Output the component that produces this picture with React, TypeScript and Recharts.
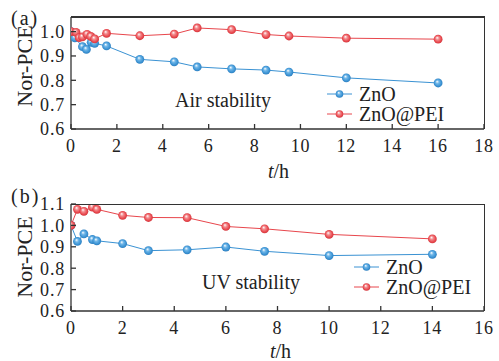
import React from 'react'
import { LineChart, Line, XAxis, YAxis, Legend } from 'recharts'

// panel (a): air stability
const airTimesZnO = [0, 0.17, 0.5, 0.67, 0.88, 1.03, 1.55, 3, 4.5, 5.5, 7, 8.5, 9.5, 12, 16]
const airZnO = [1.0, 0.974, 0.938, 0.927, 0.956, 0.952, 0.941, 0.886, 0.876, 0.855, 0.847, 0.842, 0.834, 0.81, 0.789]
const airTimesPEI = [0, 0.22, 0.36, 0.5, 0.7, 0.86, 1.03, 1.55, 3, 4.5, 5.5, 7, 8.5, 9.5, 12, 16]
const airPEI = [1.0, 0.997, 0.975, 0.978, 0.989, 0.98, 0.97, 0.993, 0.983, 0.99, 1.015, 1.008, 0.988, 0.982, 0.973, 0.969]

// panel (b): UV stability
const uvTimes = [0, 0.25, 0.5, 0.83, 1, 2, 3, 4.5, 6, 7.5, 10, 14]
const uvZnO = [1.0, 0.925, 0.96, 0.934, 0.928, 0.915, 0.882, 0.886, 0.899, 0.879, 0.859, 0.865]
const uvPEI = [1.0, 1.075, 1.066, 1.085, 1.075, 1.047, 1.037, 1.036, 0.995, 0.984, 0.958, 0.937]

const airXTicks = [0, 2, 4, 6, 8, 10, 12, 14, 16, 18]
const uvXTicks = [0, 2, 4, 6, 8, 10, 12, 14, 16]
const airYTicks = [0.6, 0.7, 0.8, 0.9, 1.0]
const uvYTicks = [0.6, 0.7, 0.8, 0.9, 1.0, 1.1]

const BLUE = '#3a92d3'
const RED = '#e8464c'
const AXIS = '#333'
const FONT = '"Liberation Serif", "DejaVu Serif", serif'

const toRows = (ts: number[], vs: number[]) => ts.map((t, i) => ({ t, v: vs[i] }))

const Ball = (grad: string) => (props: any) => {
  const { cx, cy, key } = props
  if (cx == null || cy == null) return <g key={key} />
  return <circle key={key} cx={cx} cy={cy} r={4.4} fill={`url(#${grad})`} />
}

// tick label plus a short tick pointing into the plot
const XTick = (props: any) => {
  const { x, y, payload } = props
  const ay = y - 10
  return (
    <g>
      <line x1={x} y1={ay} x2={x} y2={ay - 5} stroke={AXIS} strokeWidth={1.3} />
      <text x={x} y={y} dy="0.71em" textAnchor="middle" fontFamily={FONT} fontSize={18} fill="#222" letterSpacing={0.8}>
        {payload.value}
      </text>
    </g>
  )
}

const YTick = (props: any) => {
  const { x, y, payload } = props
  const ax = x + 6
  return (
    <g>
      <line x1={ax} y1={y} x2={ax + 5} y2={y} stroke={AXIS} strokeWidth={1.3} />
      <text x={x} y={y} dy="0.355em" textAnchor="end" fontFamily={FONT} fontSize={18} fill="#222" letterSpacing={0.8}>
        {Number(payload.value).toFixed(1)}
      </text>
    </g>
  )
}

const LegendBox = ({ payload }: any) => (
  <div style={{ fontFamily: FONT, fontSize: 20, color: '#222', lineHeight: '20px' }}>
    {(payload || []).map((p: any) => (
      <div key={p.value} style={{ display: 'flex', alignItems: 'center', height: 20 }}>
        <svg width={26} height={12} style={{ marginRight: 6 }}>
          <line x1={0} y1={6} x2={25} y2={6} stroke={p.color} strokeWidth={1} />
          <circle cx={12.5} cy={6} r={3.8} fill={`url(#${p.color === BLUE ? 'gBlue' : 'gRed'})`} />
        </svg>
        <span>{p.value}</span>
      </div>
    ))}
  </div>
)

type PanelProps = {
  height: number
  top: number
  bottom: number
  xMax: number
  yMin: number
  yMax: number
  xTicks: number[]
  yTicks: number[]
  zno: { t: number; v: number }[]
  pei: { t: number; v: number }[]
  legendPos: { left: number; top: number }
}

function Panel({ height, top, bottom, xMax, yMin, yMax, xTicks, yTicks, zno, pei, legendPos }: PanelProps) {
  const axisLine = { stroke: AXIS, strokeWidth: 1.3 }
  return (
    <LineChart width={499} height={height} margin={{ top, right: 15, left: 0, bottom: 0 }}>
      <XAxis
        dataKey="t"
        type="number"
        domain={[0, xMax]}
        ticks={xTicks}
        interval={0}
        axisLine={axisLine}
        tickLine={false}
        tickSize={0}
        tickMargin={10}
        height={bottom}
        tick={<XTick />}
        allowDataOverflow
      />
      <YAxis
        type="number"
        domain={[yMin, yMax]}
        ticks={yTicks}
        interval={0}
        axisLine={axisLine}
        tickLine={false}
        tickSize={0}
        tickMargin={6}
        width={71}
        tick={<YTick />}
        allowDataOverflow
      />
      <Legend
        layout="horizontal"
        verticalAlign="middle"
        align="center"
        wrapperStyle={{ position: 'absolute', left: legendPos.left, top: legendPos.top, width: 'auto' }}
        content={(p: any) => <LegendBox payload={p.payload} />}
      />
      <Line
        data={zno}
        dataKey="v"
        name="ZnO"
        stroke={BLUE}
        strokeWidth={1}
        dot={Ball('gBlue')}
        activeDot={false}
        isAnimationActive={false}
      />
      <Line
        data={pei}
        dataKey="v"
        name="ZnO@PEI"
        stroke={RED}
        strokeWidth={1}
        dot={Ball('gRed')}
        activeDot={false}
        isAnimationActive={false}
      />
    </LineChart>
  )
}

const txt: React.CSSProperties = { position: 'absolute', fontFamily: FONT, color: '#222', whiteSpace: 'nowrap', lineHeight: 1 }
const edge: React.CSSProperties = { position: 'absolute', background: AXIS }

export default function App() {
  return (
    <div style={{ position: 'absolute', left: 0, top: 0, width: 499, height: 361, background: '#fff', overflow: 'hidden' }}>
      <svg width={0} height={0} style={{ position: 'absolute' }}>
        <defs>
          <radialGradient id="gBlue" cx="0.5" cy="0.5" r="0.55" fx="0.38" fy="0.32">
            <stop offset="0%" stopColor="#ffffff" />
            <stop offset="35%" stopColor="#6fb6e8" />
            <stop offset="75%" stopColor={BLUE} />
            <stop offset="100%" stopColor="#2a78b8" />
          </radialGradient>
          <radialGradient id="gRed" cx="0.5" cy="0.5" r="0.55" fx="0.38" fy="0.32">
            <stop offset="0%" stopColor="#ffffff" />
            <stop offset="35%" stopColor="#f28a8d" />
            <stop offset="75%" stopColor={RED} />
            <stop offset="100%" stopColor="#c9343a" />
          </radialGradient>
        </defs>
      </svg>

      <div style={{ position: 'absolute', left: 0, top: 0 }}>
        <Panel
          height={180}
          top={17}
          bottom={51}
          xMax={18}
          yMin={0.6}
          yMax={1.06}
          xTicks={airXTicks}
          yTicks={airYTicks}
          zno={toRows(airTimesZnO, airZnO)}
          pei={toRows(airTimesPEI, airPEI)}
          legendPos={{ left: 327, top: 84 }}
        />
      </div>
      <div style={{ position: 'absolute', left: 0, top: 180 }}>
        <Panel
          height={181}
          top={24}
          bottom={50}
          xMax={16}
          yMin={0.6}
          yMax={1.1}
          xTicks={uvXTicks}
          yTicks={uvYTicks}
          zno={toRows(uvTimes, uvZnO)}
          pei={toRows(uvTimes, uvPEI)}
          legendPos={{ left: 354, top: 77 }}
        />
      </div>

      {/* top and right sides of both plot frames */}
      <div style={{ ...edge, left: 71, top: 16, width: 414, height: 1.5 }} />
      <div style={{ ...edge, left: 483.5, top: 16, width: 1.5, height: 113 }} />
      <div style={{ ...edge, left: 71, top: 203.5, width: 414, height: 1.5 }} />
      <div style={{ ...edge, left: 483.5, top: 203.5, width: 1.5, height: 107.5 }} />

      <div style={{ ...txt, left: 11, top: 8, fontSize: 20, letterSpacing: 2 }}>(a)</div>
      <div style={{ ...txt, left: 11, top: 186, fontSize: 20, letterSpacing: 2 }}>(b)</div>

      <div style={{ ...txt, left: 25, top: 66, fontSize: 22, transform: 'translate(-50%, -50%) rotate(-90deg)' }}>Nor-PCE</div>
      <div style={{ ...txt, left: 25, top: 257, fontSize: 22, transform: 'translate(-50%, -50%) rotate(-90deg)' }}>Nor-PCE</div>

      <div style={{ ...txt, left: 175, top: 90, fontSize: 20 }}>Air stability</div>
      <div style={{ ...txt, left: 202, top: 272, fontSize: 20 }}>UV stability</div>

      <div style={{ ...txt, left: 268, top: 161, fontSize: 20 }}><i>t</i>/h</div>
      <div style={{ ...txt, left: 270, top: 341, fontSize: 20 }}><i>t</i>/h</div>
    </div>
  )
}
